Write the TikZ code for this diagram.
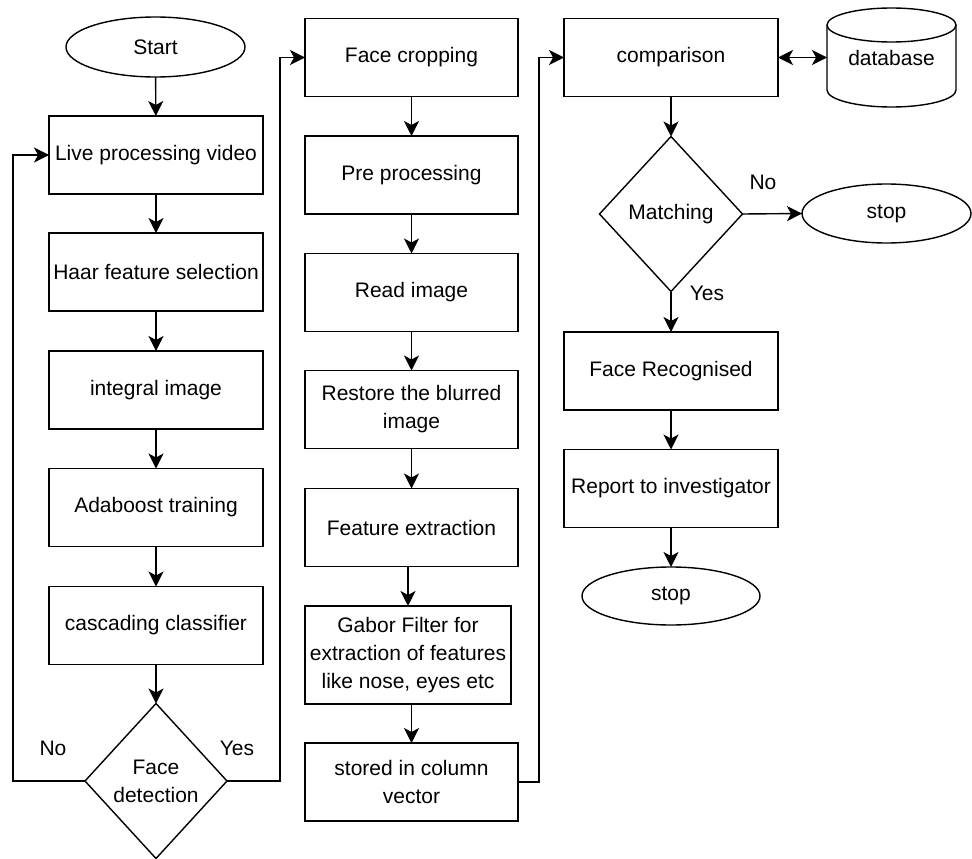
\documentclass[tikz,border=0pt]{standalone}
\usepackage{fontspec}
\setmainfont{Liberation Sans}
\usetikzlibrary{shapes.geometric,arrows.meta}
\begin{document}
\begin{tikzpicture}[x=1pt,y=-1pt,
  every node/.style={font=\fontsize{21}{28}\selectfont, inner sep=0pt, outer sep=0pt},
  proc/.style={draw, line width=1.4pt, rectangle, minimum width=214pt, minimum height=78pt, align=center},
  term/.style={draw, line width=1.4pt, ellipse, minimum width=178pt, minimum height=59pt},
  decide/.style={draw, line width=1.4pt, diamond, minimum width=142pt, minimum height=155pt, align=center},
  conn/.style={line width=1.4pt, -{Stealth[length=15pt,width=15pt,inset=4pt]}},
  biconn/.style={line width=1.4pt, {Stealth[length=15pt,width=15pt,inset=4pt]}-{Stealth[length=15pt,width=15pt,inset=4pt]}},
  ]
\useasboundingbox (0,0) rectangle (972,859);

% left column
\node[term, minimum width=179pt, minimum height=60pt] (start) at (155.5,47) {Start};
\node[proc] (live) at (156,155) {Live processing video};
\node[proc] (haar) at (156,272) {Haar feature selection};
\node[proc] (integ) at (156,390) {integral image};
\node[proc] (ada) at (156,507.5) {Adaboost training};
\node[proc] (casc) at (156,625.5) {cascading classifier};
\node[decide] (fdet) at (156,781) {Face\\detection};
\node (no1) at (53,748) {No};
\node (yes1) at (237,748) {Yes};

% middle column
\node[proc, minimum width=213pt] (crop) at (411.5,57.5) {Face cropping};
\node[proc, minimum width=213pt] (pre) at (411.5,175) {Pre processing};
\node[proc, minimum width=213pt] (read) at (411.5,292.5) {Read image};
\node[proc, minimum width=213pt] (rest) at (411.5,409.5) {Restore the blurred\\image};
\node[proc, minimum width=213pt] (feat) at (411.5,527.5) {Feature extraction};
\node[proc, minimum width=206pt, minimum height=98pt] (gabor) at (408,655) {Gabor Filter for\\extraction of features\\like nose, eyes etc};
\node[proc, minimum width=213pt] (store) at (411.5,782) {stored in column\\vector};

% right column
\node[proc] (comp) at (671,57.5) {comparison};
\node[minimum width=129pt, minimum height=99pt] (db) at (891.5,57.5) {database};
\draw[line width=1.4pt] (891.5,25) ellipse [x radius=64.5pt, y radius=17pt];
\draw[line width=1.4pt] (827,25) -- (827,90) arc[start angle=180, end angle=360, x radius=64.5pt, y radius=17pt] -- (956,25);
\node[decide, minimum width=143pt] (match) at (671,214) {Matching};
\node[term, minimum width=169pt] (stop1) at (886.5,213.5) {stop};
\node (no2) at (763,182) {No};
\node (yes2) at (707,293) {Yes};
\node[proc] (frec) at (671,371) {Face Recognised};
\node[proc] (rep) at (671,488.5) {Report to investigator};
\node[term, minimum height=58pt] (stop2) at (671,596) {stop};

% bus coordinates
\coordinate (loopL) at (13,0);
\coordinate (busA) at (280,0);
\coordinate (busB) at (539,0);

% connectors
\draw[conn] (start) -- (live);
\draw[conn] (live) -- (haar);
\draw[conn] (haar) -- (integ);
\draw[conn] (integ) -- (ada);
\draw[conn] (ada) -- (casc);
\draw[conn] (casc) -- (fdet);
\draw[conn] (fdet.west) -- (fdet.west -| loopL) |- (live.west);
\draw[conn] (fdet.east) -- (fdet.east -| busA) |- (crop.west);

\draw[conn] (crop) -- (pre);
\draw[conn] (pre) -- (read);
\draw[conn] (read) -- (rest);
\draw[conn] (rest) -- (feat);
\draw[conn] (feat.south -| gabor) -- (gabor.north);
\draw[conn] (gabor.south -| store) -- (store.north);
\draw[conn] (store.east) -- (store.east -| busB) |- (comp.west);

\draw[biconn] (comp.east) -- (db.west);
\draw[conn] (comp) -- (match);
\draw[conn] (match.east) -- (stop1.west);
\draw[conn] (match) -- (frec);
\draw[conn] (frec) -- (rep);
\draw[conn] (rep) -- (stop2);
\end{tikzpicture}
\end{document}
